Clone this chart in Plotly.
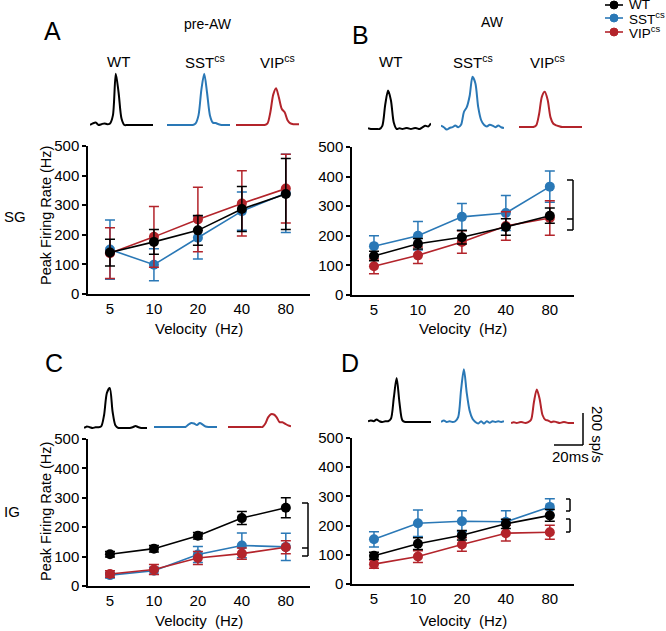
import plotly.graph_objects as go

# ---------------- data ----------------
VELOCITY = ["5", "10", "20", "40", "80"]
GROUPS = ["WT", "SST<sup>cs</sup>", "VIP<sup>cs</sup>"]
COLORS = ["#000000", "#2a78b6", "#b3242b"]

# Panel A: pre-AW, SG
A_WT = [140, 176, 215, 287, 338]
A_WT_ERR = [45, 42, 50, 76, 120]
A_SST = [150, 99, 190, 280, 340]
A_SST_ERR = [100, 54, 72, 65, 132]
A_VIP = [138, 193, 252, 306, 356]
A_VIP_ERR = [86, 103, 109, 110, 116]

# Panel B: AW, SG
B_WT = [132, 173, 195, 230, 268]
B_WT_ERR = [16, 18, 23, 28, 26]
B_SST = [165, 200, 264, 277, 366]
B_SST_ERR = [35, 48, 45, 59, 53]
B_VIP = [97, 134, 179, 233, 260]
B_VIP_ERR = [25, 28, 38, 48, 58]

# Panel C: pre-AW, IG
C_WT = [108, 127, 171, 231, 266]
C_WT_ERR = [9, 11, 11, 22, 34]
C_SST = [37, 52, 107, 138, 133]
C_SST_ERR = [10, 12, 27, 42, 46]
C_VIP = [41, 56, 95, 110, 132]
C_VIP_ERR = [11, 17, 22, 19, 22]

# Panel D: AW, IG
D_WT = [97, 138, 167, 206, 235]
D_WT_ERR = [12, 20, 16, 16, 20]
D_SST = [153, 208, 215, 213, 264]
D_SST_ERR = [26, 45, 36, 38, 28]
D_VIP = [68, 94, 135, 174, 177]
D_VIP_ERR = [14, 20, 23, 27, 24]

# Example PSTH waveforms (sp/s), sampled every 2 ms
WAVE_T = [0, 2, 4, 6, 8, 10, 12, 14, 16, 18, 20, 22, 24, 26, 28, 30, 32, 34, 36, 38, 40, 42, 44]
WA_WT = [0, 10, 15, 0, 5, 10, 5, 10, 60, 320, 200, 40, 0, 0, 0, 0, 0, 0, 0, 0, 0, 0, 0]
WA_SST = [0, 0, 0, 0, 0, 0, 0, 0, 0, 0, 10, 60, 220, 320, 200, 60, 15, 12, 5, 0, 0, 0, 0]
WA_VIP = [0, 0, 0, 0, 0, 0, 0, 0, 0, 0, 0, 10, 80, 190, 230, 170, 100, 80, 30, 10, 5, 5, 5]
WB_WT = [5, 0, 0, 0, 0, 20, 150, 240, 180, 40, 0, 5, 0, 5, 5, 0, 5, 5, 0, 10, 20, 15, 35]
WB_SST = [15, 5, -10, 0, 5, 15, 5, 20, 100, 130, 200, 320, 280, 130, 50, 20, 10, 20, 15, 5, 15, 5, 0]
WB_VIP = [0, 0, 0, 0, 0, 0, 10, 80, 190, 220, 170, 60, 20, 10, 5, 0, 0, 0, 0, 0, 0, 0, 0]
WC_WT = [0, 10, 5, 0, 5, 5, 10, 80, 220, 250, 100, 15, 0, 0, 0, 0, 0, 5, 12, 5, 0, 0, 0]
WC_SST = [0, 0, 0, 0, 0, 0, 0, 0, 0, 0, 0, 0, 15, 25, 22, 12, 25, 15, 3, 0, 0, 0, 0]
WC_VIP = [0, 0, 0, 0, 0, 0, 0, 0, 0, 0, 0, 0, 0, 20, 60, 80, 78, 60, 30, 30, 20, 10, 5]
WD_WT = [5, 10, 5, 15, 5, 0, 5, 5, 20, 150, 275, 120, 10, 0, 0, 0, 0, 0, 0, 0, 0, 0, 0]
WD_SST = [0, 10, 0, 5, 0, 5, 30, 200, 330, 180, 70, 20, 0, -10, 5, -10, 5, -5, 5, 0, 5, 0, 5]
WD_VIP = [0, 5, 0, 5, 5, 0, 5, 20, 130, 210, 150, 50, 20, 15, 5, 10, 5, 0, 5, 5, 0, 0, 0]

# ---------------- layout helpers ----------------
W, H = 666, 631
FONT = "Liberation Sans, Arial, sans-serif"


def fx(px):
    return px / W


def fy(py):
    return 1 - py / H


fig = go.Figure()
layout = {}

panels = [
    ("A", 88, 310, 146, 294, [(A_WT, A_WT_ERR), (A_SST, A_SST_ERR), (A_VIP, A_VIP_ERR)]),
    ("B", 352, 574, 147, 295, [(B_WT, B_WT_ERR), (B_SST, B_SST_ERR), (B_VIP, B_VIP_ERR)]),
    ("C", 88, 310, 439, 586, [(C_WT, C_WT_ERR), (C_SST, C_SST_ERR), (C_VIP, C_VIP_ERR)]),
    ("D", 352, 574, 438, 584, [(D_WT, D_WT_ERR), (D_SST, D_SST_ERR), (D_VIP, D_VIP_ERR)]),
]

ax = 0
draw_order = [1, 2, 0]
for name, x0, x1, yt, yb, series in panels:
    ax += 1
    sfx = "" if ax == 1 else str(ax)
    layout["xaxis" + sfx] = dict(
        domain=[fx(x0), fx(x1)], anchor="y" + sfx, type="category",
        range=[-0.5, 4.55], showline=True, linecolor="black", linewidth=1.5,
        ticks="", showgrid=False, zeroline=False, automargin=False,
        tickfont=dict(family=FONT, size=15, color="black"),
    )
    layout["yaxis" + sfx] = dict(
        domain=[fy(yb), fy(yt)], anchor="x" + sfx, range=[0, 500],
        tickvals=[0, 100, 200, 300, 400, 500], showline=True, linecolor="black",
        linewidth=1.5, ticks="outside", ticklen=4, tickwidth=1.5, tickcolor="black",
        showgrid=False, zeroline=False, automargin=False,
        tickfont=dict(family=FONT, size=15, color="black"),
    )
    for gi in draw_order:
        vals, errs = series[gi]
        fig.add_trace(go.Scatter(
            x=VELOCITY, y=vals, mode="lines+markers",
            line=dict(color=COLORS[gi], width=1.6),
            marker=dict(color=COLORS[gi], size=10),
            error_y=dict(type="data", array=errs, color=COLORS[gi], thickness=1.5, width=5),
            xaxis="x" + sfx, yaxis="y" + sfx, showlegend=False, cliponaxis=False,
        ))

insets = [
    (WA_WT, 90, 125, 0), (WA_SST, 167, 125, 1), (WA_VIP, 236, 125, 2),
    (WB_WT, 368, 129, 0), (WB_SST, 441, 128, 1), (WB_VIP, 519, 127, 2),
    (WC_WT, 84, 428, 0), (WC_SST, 154, 427, 1), (WC_VIP, 228, 427, 2),
    (WD_WT, 368, 422, 0), (WD_SST, 441, 422, 1), (WD_VIP, 511, 423, 2),
]
for wave, xs, base, ci in insets:
    ax += 1
    sfx = str(ax)
    bot = base + 3.2
    top = bot - 64
    layout["xaxis" + sfx] = dict(domain=[fx(xs), fx(xs + 63)], anchor="y" + sfx,
                                 range=[0, 44], visible=False, automargin=False)
    layout["yaxis" + sfx] = dict(domain=[fy(bot), fy(top)], anchor="x" + sfx,
                                 range=[-20, 380], visible=False, automargin=False)
    fig.add_trace(go.Scatter(
        x=WAVE_T, y=wave, mode="lines",
        line=dict(color=COLORS[ci], width=2, shape="spline", smoothing=0.8),
        xaxis="x" + sfx, yaxis="y" + sfx, showlegend=False, cliponaxis=False,
    ))

annotations = []


def text(t, x, y, size=14, angle=0, xanchor="center"):
    annotations.append(dict(
        text=t, x=fx(x), y=fy(y), xref="paper", yref="paper", showarrow=False,
        xanchor=xanchor, yanchor="middle", textangle=angle,
        font=dict(family=FONT, size=size, color="black"),
    ))


NB = "\u00a0"
text("A", 52, 31, 25)
text("B", 360, 35, 25)
text("C", 54, 363, 25)
text("D", 350, 363, 25)
text("pre-AW", 208, 24, 14)
text("AW", 492, 22, 14)
for lab, x in zip(GROUPS, [118, 205, 277]):
    text(lab, x, 62, 15)
for lab, x in zip(GROUPS, [390, 473, 547]):
    text(lab, x, 62, 15)
text("SG", 15, 216, 15)
text("IG", 12, 511, 15)
text("Peak Firing Rate (Hz)", 46, 216, 14.5, angle=-90)
text("Peak Firing Rate (Hz)", 46, 512, 14.5, angle=-90)
for cx, cy in [(199, 329), (463, 329), (199, 620), (463, 620)]:
    text("Velocity" + NB + NB + "(Hz)", cx, cy, 15)
text("20ms", 570, 456, 15)
text("200 sp/s", 598, 434, 15, angle=90)

shapes = []


def seg(x0, y0, x1, y1, color="black", w=1.5):
    shapes.append(dict(type="line", xref="paper", yref="paper",
                       x0=fx(x0), y0=fy(y0), x1=fx(x1), y1=fy(y1),
                       line=dict(color=color, width=w)))


for gi, ly in enumerate([5, 18, 32]):
    seg(605, ly, 623, ly, COLORS[gi], 1.6)
    shapes.append(dict(type="circle", xref="paper", yref="paper",
                       x0=fx(610), x1=fx(618), y0=fy(ly + 4), y1=fy(ly - 4),
                       fillcolor=COLORS[gi], line=dict(color=COLORS[gi], width=1)))
    text(GROUPS[gi], 627, ly, 13.5, xanchor="left")

# significance brackets
seg(573, 180, 573, 230)
seg(567, 180, 573, 180)
seg(567, 219, 573, 219)
seg(567, 230, 573, 230)
seg(308, 503, 308, 556)
seg(302, 503, 308, 503)
seg(302, 548, 308, 548)
seg(302, 556, 308, 556)
seg(570, 499, 570, 511)
seg(566, 499, 570, 499)
seg(566, 511, 570, 511)
seg(570, 519, 570, 532)
seg(566, 519, 570, 519)
seg(566, 532, 570, 532)
# scale bar
seg(583, 413, 583, 445)
seg(554, 445, 583, 445)

fig.update_layout(
    width=W, height=H, margin=dict(l=0, r=0, t=0, b=0, pad=0, autoexpand=False),
    paper_bgcolor="white", plot_bgcolor="white",
    annotations=annotations, shapes=shapes, showlegend=False,
    **layout,
)

fig.write_html(
    "out.html",
    config={"displayModeBar": False},
    post_script="document.body.style.margin='0';document.body.style.overflow='hidden';",
)
